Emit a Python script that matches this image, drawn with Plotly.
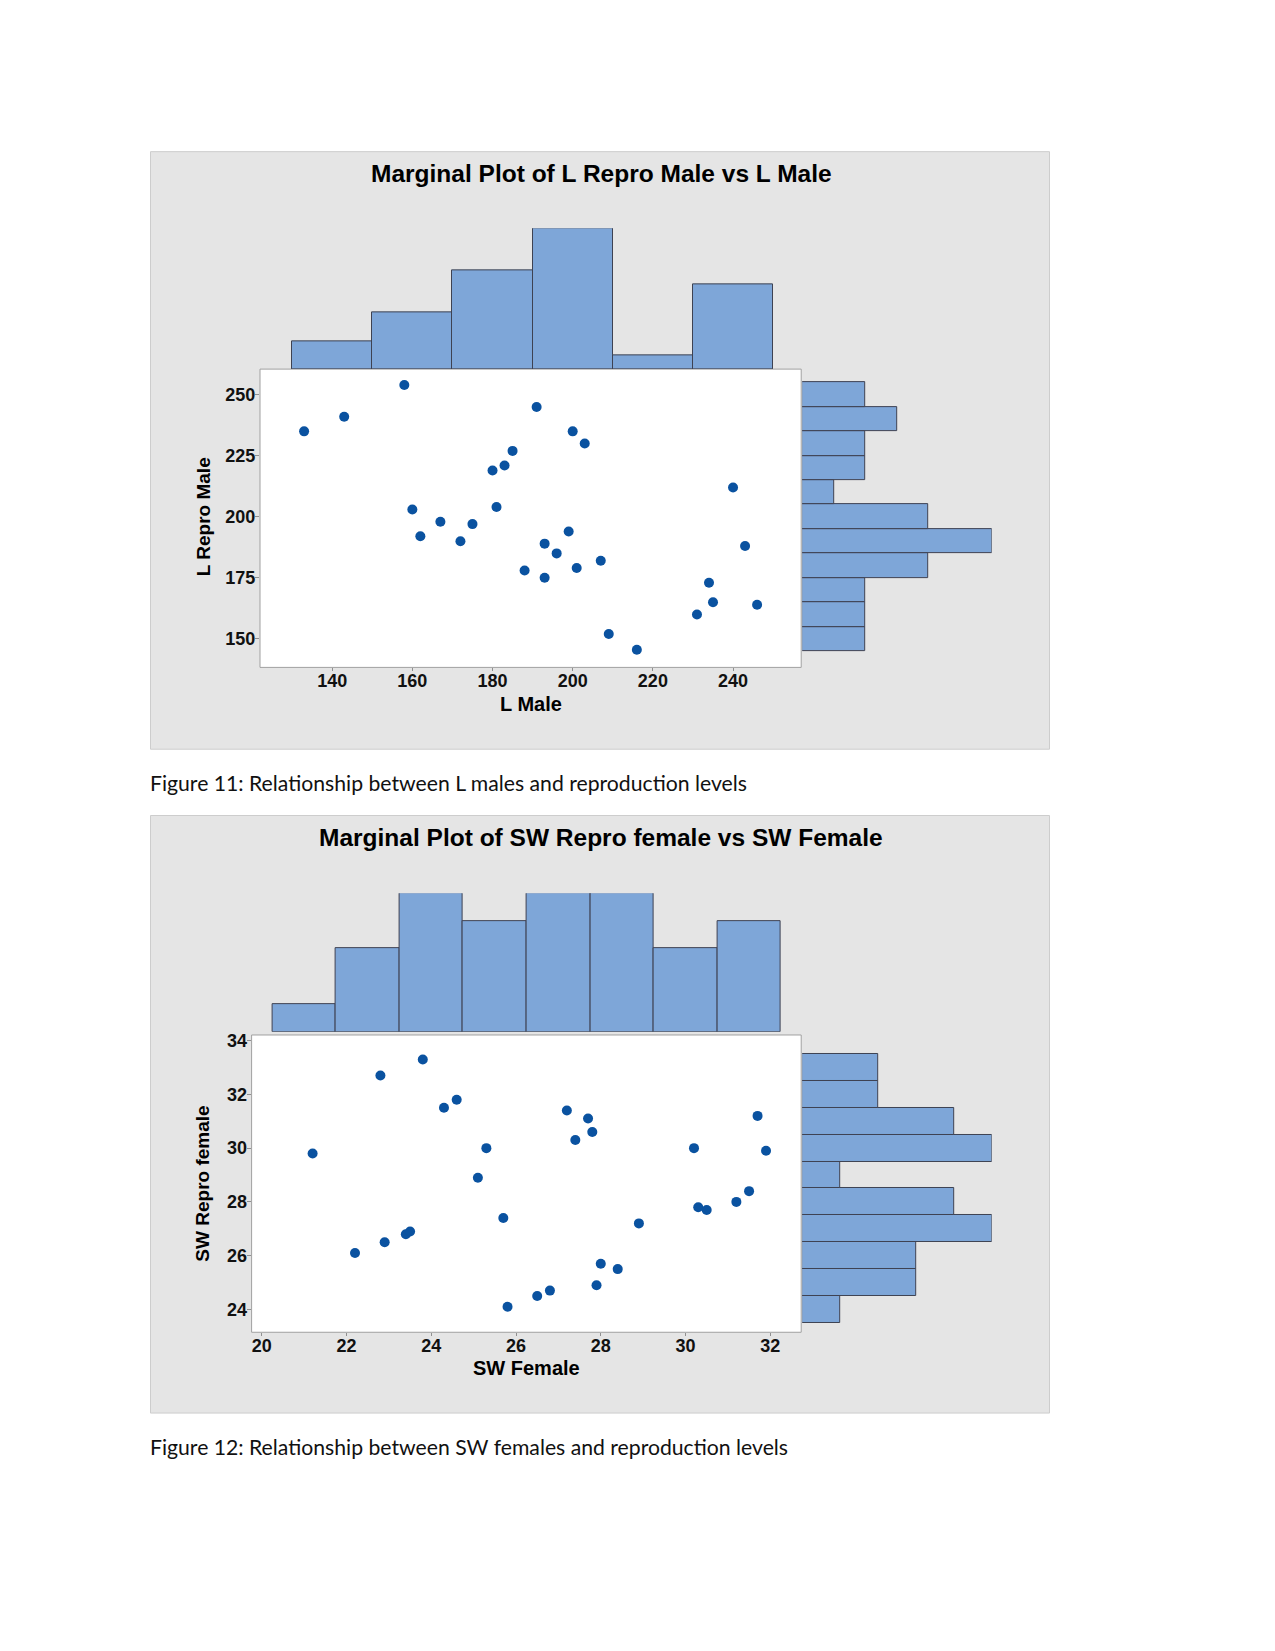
import plotly.graph_objects as go

# page has an 8px body margin; the figure is sized to fit inside it
OFF = 8
OFFY = 10.5
W, H = 1275 - 2 * OFF, 1651 - 2 * OFF

# ---- Data: Figure 11 ----
l_male = [133, 143, 158, 160, 162, 167, 172, 175, 180, 183, 185, 181, 191, 188, 193,
          193, 196, 199, 200, 201, 203, 207, 209, 216, 231, 234, 235, 240, 243, 246]
l_repro_male = [235, 241, 254, 203, 192, 198, 190, 197, 219, 221, 227, 204, 245, 178, 189,
                175, 185, 194, 235, 179, 230, 182, 152, 145.5, 160, 173, 165, 212, 188, 164]
l_male_ticks = [140, 160, 180, 200, 220, 240]
l_repro_ticks = [150, 175, 200, 225, 250]

# ---- Data: Figure 12 ----
sw_female = [21.2, 22.2, 22.8, 22.9, 23.4, 23.5, 23.8, 24.3, 24.6, 25.1, 25.3, 25.7, 25.8,
             26.5, 26.8, 27.2, 27.4, 27.7, 27.8, 27.9, 28.0, 28.4, 28.9, 30.2, 30.3, 30.5,
             31.2, 31.5, 31.7, 31.9]
sw_repro_female = [29.8, 26.1, 32.7, 26.5, 26.8, 26.9, 33.3, 31.5, 31.8, 28.9, 30.0, 27.4,
                   24.1, 24.5, 24.7, 31.4, 30.3, 31.1, 30.6, 24.9, 25.7, 25.5, 27.2, 30.0,
                   27.8, 27.7, 28.0, 28.4, 31.2, 29.9]
sw_female_ticks = [20, 22, 24, 26, 28, 30, 32]
sw_repro_ticks = [24, 26, 28, 30, 32, 34]

title1 = "Marginal Plot of L Repro Male vs L Male"
title2 = "Marginal Plot of SW Repro female vs SW Female"
caption1 = "Figure 11: Relationship between L males and reproduction levels"
caption2 = "Figure 12: Relationship between SW females and reproduction levels"

DOT = "#0a52a0"
BAR = "#7ea6d8"
EDGE = "#3e4252"
PANEL = "#e5e5e5"
NARROW = "Liberation Sans Narrow, Arial Narrow, sans-serif"
WIDE = "Liberation Sans, Arial, sans-serif"


def px(x):
    return (x - OFF) / W


def py(y):
    return 1 - (y - OFFY) / H


fig = go.Figure()
bar_style = dict(color=BAR, line=dict(color=EDGE, width=1))

# Panel 1
fig.add_trace(go.Scatter(x=l_male, y=l_repro_male, mode="markers",
                         marker=dict(color=DOT, size=10), xaxis="x", yaxis="y"))
fig.add_trace(go.Histogram(x=l_male, xbins=dict(start=130, end=250, size=20),
                           marker=bar_style, xaxis="x2", yaxis="y2"))
fig.add_trace(go.Histogram(y=l_repro_male, ybins=dict(start=145, end=255, size=10),
                           marker=bar_style, xaxis="x3", yaxis="y3"))
# Panel 2
fig.add_trace(go.Scatter(x=sw_female, y=sw_repro_female, mode="markers",
                         marker=dict(color=DOT, size=10), xaxis="x4", yaxis="y4"))
fig.add_trace(go.Histogram(x=sw_female, xbins=dict(start=20.25, end=32.25, size=1.5),
                           marker=bar_style, xaxis="x5", yaxis="y5"))
fig.add_trace(go.Histogram(y=sw_repro_female, ybins=dict(start=23.5, end=33.5, size=1),
                           marker=bar_style, xaxis="x6", yaxis="y6"))

tickfont = dict(family=NARROW, size=18, color="#111111", weight="bold")
vis = dict(showgrid=False, zeroline=False, showline=False, showticklabels=False, ticks="")
mainx = dict(showgrid=False, zeroline=False, showline=False, ticks="outside", ticklen=3,
             tickcolor="#909090", tickwidth=1, tickfont=tickfont, ticklabelstandoff=-6)
mainy = dict(showgrid=False, zeroline=False, showline=False, ticks="outside", ticklen=4,
             tickcolor="#909090", tickwidth=1, tickfont=tickfont, ticklabelstandoff=-4)

# Panel 1 geometry (pixels in the page)
s1 = dict(l=260, r=801.2, t=368.5, b=667.5)
x1r = [122, 257]
y1r = [138.3, 260.5]
# Panel 2 geometry
s2 = dict(l=251.6, r=801.2, t=1036, b=1334)
x2r = [19.76, 32.73]
y2r = [23.15, 34.21]

fig.update_layout(
    xaxis=dict(domain=[px(s1["l"]), px(s1["r"])], range=x1r, anchor="y",
               tickvals=l_male_ticks, **mainx),
    yaxis=dict(domain=[py(s1["b"]), py(s1["t"])], range=y1r, anchor="x",
               tickvals=l_repro_ticks, **mainy),
    xaxis2=dict(domain=[px(s1["l"]), px(s1["r"])], range=x1r, anchor="y2", **vis),
    yaxis2=dict(domain=[py(s1["t"]), py(227.4)], range=[0, 10], anchor="x2", **vis),
    xaxis3=dict(domain=[px(802.2), px(991.7)], range=[0, 6], anchor="y3", **vis),
    yaxis3=dict(domain=[py(s1["b"]), py(s1["t"])], range=y1r, anchor="x3", **vis),

    xaxis4=dict(domain=[px(s2["l"]), px(s2["r"])], range=x2r, anchor="y4",
                tickvals=sw_female_ticks, **mainx),
    yaxis4=dict(domain=[py(s2["b"]), py(s2["t"])], range=y2r, anchor="x4",
                tickvals=sw_repro_ticks, **mainy),
    xaxis5=dict(domain=[px(s2["l"]), px(s2["r"])], range=x2r, anchor="y5", **vis),
    yaxis5=dict(domain=[py(1032.8), py(893.8)], range=[0, 5], anchor="x5", **vis),
    xaxis6=dict(domain=[px(802.2), px(991.7)], range=[0, 5], anchor="y6", **vis),
    yaxis6=dict(domain=[py(s2["b"]), py(s2["t"])], range=y2r, anchor="x6", **vis),
)

shapes = []
for (t, b) in [(150.5, 749.5), (816, 1415)]:
    shapes.append(dict(type="rect", xref="paper", yref="paper", layer="below",
                       x0=px(150.5), x1=px(1049.5), y0=py(b), y1=py(t),
                       fillcolor=PANEL, line=dict(color="#cdcdcd", width=1)))
for (xa, ya) in [("x", "y"), ("x4", "y4")]:
    shapes.append(dict(type="rect", xref=xa + " domain", yref=ya + " domain", layer="below",
                       x0=0, x1=1, y0=0, y1=1, fillcolor="white",
                       line=dict(color="#a0a0a0", width=1)))

annotations = [
    dict(text=title1, x=px(601), y=py(172), xref="paper", yref="paper", showarrow=False,
         font=dict(family=NARROW, size=24.5, color="#000000", weight="bold"),
         xanchor="center", yanchor="middle"),
    dict(text=title2, x=px(601), y=py(838), xref="paper", yref="paper", showarrow=False,
         font=dict(family=NARROW, size=24.5, color="#000000", weight="bold"),
         xanchor="center", yanchor="middle"),
    dict(text="<b>L Male</b>", x=px(531), y=py(704), xref="paper", yref="paper", showarrow=False,
         font=dict(family=NARROW, size=20, color="#000000"), xanchor="center", yanchor="middle"),
    dict(text="<b>SW Female</b>", x=px(526), y=py(1370), xref="paper", yref="paper",
         showarrow=False, font=dict(family=NARROW, size=20, color="#000000"),
         xanchor="center", yanchor="middle"),
    dict(text="<b>L Repro Male</b>", x=px(203), y=py(517), xref="paper", yref="paper",
         showarrow=False, textangle=-90, font=dict(family=WIDE, size=19, color="#000000"),
         xanchor="center", yanchor="middle"),
    dict(text="<b>SW Repro female</b>", x=px(203), y=py(1185), xref="paper", yref="paper",
         showarrow=False, textangle=-90, font=dict(family=WIDE, size=19, color="#000000"),
         xanchor="center", yanchor="middle"),
    dict(text=caption1, x=px(148), y=py(783), xref="paper", yref="paper", showarrow=False,
         font=dict(family="Lato, sans-serif", size=21.2, color="#111111"),
         xanchor="left", yanchor="middle"),
    dict(text=caption2, x=px(148), y=py(1449), xref="paper", yref="paper", showarrow=False,
         font=dict(family="Lato, sans-serif", size=21.2, color="#111111"),
         xanchor="left", yanchor="middle"),
]

fig.update_layout(
    width=W, height=H, margin=dict(l=0, r=0, t=0, b=0),
    paper_bgcolor="white", plot_bgcolor="rgba(0,0,0,0)",
    showlegend=False, bargap=0, shapes=shapes, annotations=annotations,
)

fig.write_html("out.html")
